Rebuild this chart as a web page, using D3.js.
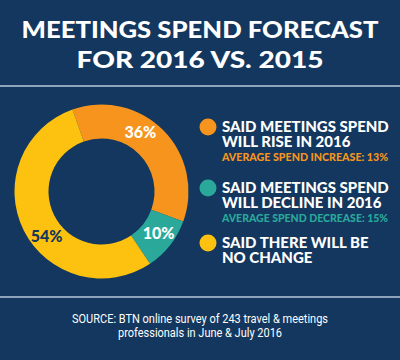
<!DOCTYPE html>
<html>
<head>
<meta charset="utf-8">
<script src="https://cdn.jsdelivr.net/npm/d3@7"></script>
<style>
  body { margin: 0; background: #13375e; }
  svg { display: block; }
</style>
</head>
<body>
<svg></svg>
<script>
// chart data
const categories = ["rise", "decline", "no change"];
const shares = [36, 10, 54];
const sliceLabels = ["36%", "10%", "54%"];
const legendLines = [
    ["SAID MEETINGS SPEND", "WILL RISE IN 2016"],
    ["SAID MEETINGS SPEND", "WILL DECLINE IN 2016"],
    ["SAID THERE WILL BE", "NO CHANGE"]
];
const legendNotes = ["AVERAGE SPEND INCREASE: 13%", "AVERAGE SPEND DECREASE: 15%", ""];
const titleLines = ["MEETINGS SPEND FORECAST", "FOR 2016 VS. 2015"];
const sourceLines = ["SOURCE: BTN online survey of 243 travel & meetings", "professionals in June & July 2016"];

let width = 400;
let height = 360;
let bg = "#13375e";
let colors = ["#f7941d", "#2aa99b", "#fdc210"];
let labelColors = ["#ffffff", "#ffffff", "#13375e"];
let headFont = "Lato, 'Open Sans', sans-serif";

let svg = d3.select("svg")
    .attr("width", width)
    .attr("height", height)

svg.append("rect")
    .attr("width", width)
    .attr("height", height)
    .attr("fill", bg)

// title
svg.selectAll(".title")
    .data(titleLines)
    .enter()
    .append("text")
    .attr("class", "title")
    .attr("x", width/2)
    .attr("y", (d, i) => 38 + i*30)
    .attr("text-anchor", "middle")
    .attr("textLength", (d, i) => i == 0 ? 357 : 247)
    .attr("lengthAdjust", "spacingAndGlyphs")
    .style("font-family", headFont)
    .style("font-weight", 900)
    .style("font-size", "22px")
    .attr("fill", "#ffffff")
    .text(d => d)

// separator lines
svg.selectAll(".rule")
    .data([86, 297])
    .enter()
    .append("line")
    .attr("x1", 0)
    .attr("x2", width)
    .attr("y1", d => d)
    .attr("y2", d => d)
    .attr("stroke", "#b9c9dc")
    .attr("stroke-width", 1.5)

// donut
let cx = 101.5, cy = 191.5;
let outerR = 87, innerR = 53;
let startA = -19.5 * Math.PI/180;

let pie = d3.pie()
    .sort(null)
    .startAngle(startA)
    .endAngle(startA + 2*Math.PI)
    .value(d => d)

let arc = d3.arc()
    .innerRadius(innerR)
    .outerRadius(outerR)

let labelArc = d3.arc()
    .innerRadius(71)
    .outerRadius(71)

let donut = svg.append("g")
    .attr("transform", `translate(${cx}, ${cy})`)

let slices = pie(shares);

donut.selectAll("path")
    .data(slices)
    .enter()
    .append("path")
    .attr("d", arc)
    .attr("fill", (d, i) => colors[i])

// labels sit a little before each slice's middle
let nudge = [-0.21, -0.03, -0.22];
donut.selectAll(".pct")
    .data(slices)
    .enter()
    .append("text")
    .attr("class", "pct")
    .attr("transform", (d, i) => {
        let a = (d.startAngle + d.endAngle)/2 + nudge[i];
        let c = labelArc.centroid({startAngle: a, endAngle: a});
        return `translate(${c[0]}, ${c[1]})`;
    })
    .attr("text-anchor", "middle")
    .attr("dy", "0.36em")
    .style("font-family", headFont)
    .style("font-weight", 900)
    .style("font-size", "16px")
    .attr("fill", (d, i) => labelColors[i])
    .text((d, i) => sliceLabels[i])

// legend
let legendTop = [127, 188, 243];
let legend = svg.selectAll(".legend")
    .data(categories)
    .enter()
    .append("g")
    .attr("class", "legend")
    .attr("transform", (d, i) => `translate(208, ${legendTop[i]})`)

legend.append("circle")
    .attr("r", 8.5)
    .attr("fill", (d, i) => colors[i])

legend.each(function(d, i) {
    let g = d3.select(this);
    legendLines[i].forEach((line, j) => {
        g.append("text")
            .attr("x", 14)
            .attr("y", 5 + j*15)
            .style("font-family", headFont)
            .style("font-weight", 900)
            .style("font-size", "15px")
            .attr("fill", "#ffffff")
            .text(line)
    })
    if (legendNotes[i]) {
        g.append("text")
            .attr("x", 14)
            .attr("y", 34)
            .attr("textLength", 166)
            .attr("lengthAdjust", "spacingAndGlyphs")
            .style("font-family", headFont)
            .style("font-weight", 900)
            .style("font-size", "10.5px")
            .attr("fill", colors[i])
            .text(legendNotes[i])
    }
})

// source note
svg.selectAll(".source")
    .data(sourceLines)
    .enter()
    .append("text")
    .attr("class", "source")
    .attr("x", width/2)
    .attr("y", (d, i) => 323 + i*14)
    .attr("text-anchor", "middle")
    .attr("textLength", (d, i) => i == 0 ? 256 : 164)
    .attr("lengthAdjust", "spacingAndGlyphs")
    .style("font-family", "Roboto, sans-serif")
    .style("font-weight", 400)
    .style("font-size", "12.5px")
    .attr("fill", "#ffffff")
    .text(d => d)
</script>
</body>
</html>
